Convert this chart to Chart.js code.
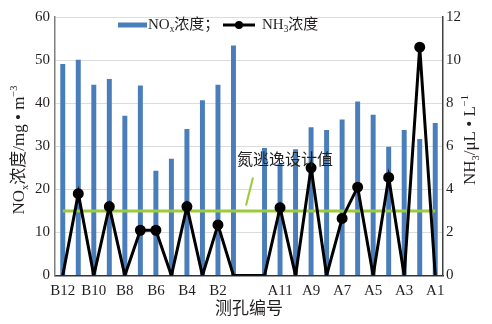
<!DOCTYPE html>
<html>
<head>
<meta charset="utf-8">
<script src="https://cdn.jsdelivr.net/npm/chart.js@4.4.0/dist/chart.umd.min.js"></script>
<style>
    html, body { margin: 0; padding: 0; background: #fff; }
    #wrap { width: 492px; height: 324px; }
</style>
</head>
<body>
<div id="wrap"><canvas id="grafico" width="492" height="324"></canvas></div>
<script>
// Dados
const categorias = ['B12', 'B11', 'B10', 'B9', 'B8', 'B7', 'B6', 'B5', 'B4', 'B3', 'B2', 'B1', '',
    'A12', 'A11', 'A10', 'A9', 'A8', 'A7', 'A6', 'A5', 'A4', 'A3', 'A2', 'A1'];
const rotulosX = ['B12', '', 'B10', '', 'B8', '', 'B6', '', 'B4', '', 'B2', '', '',
    '', 'A11', '', 'A9', '', 'A7', '', 'A5', '', 'A3', '', 'A1'];
const noxValores = [49.1, 50.1, 44.3, 45.6, 37.1, 44.1, 24.3, 27.1, 34.0, 40.7, 44.3, 53.4, null,
    29.6, 26.0, 29.3, 34.4, 33.8, 36.2, 40.4, 37.3, 29.9, 33.8, 31.7, 35.4];
const nh3Valores = [0, 3.8, 0, 3.2, 0, 2.1, 2.1, 0, 3.2, 0, 2.35, 0, 0,
    0, 3.15, 0, 5.0, 0, 2.65, 4.1, 0, 4.55, 0, 10.6, 0];
const valorProjeto = categorias.map(() => 3);   // 氨逃逸设计值
const ticksNox = [0, 10, 20, 30, 40, 50, 60];
const ticksNh3 = [0, 2, 4, 6, 8, 10, 12];

const SERIF = "'Liberation Serif', 'Noto Sans CJK SC', serif";
const COR_TEXTO = '#231f20';
const AZUL = '#4a7ebb';
const VERDE = '#9bcb3c';

// Texto com subscrito / sobrescrito
function desenharTexto(ctx, partes, x, y, rot, tam, alinhar) {
    ctx.save();
    ctx.translate(x, y);
    ctx.rotate(rot);
    let total = 0;
    partes.forEach(p => {
        ctx.font = (p.s ? tam * 0.62 : tam) + 'px ' + SERIF;
        p.w = ctx.measureText(p.t).width;
        total += p.w;
    });
    let cx = alinhar === 'left' ? 0 : -total / 2;
    ctx.textAlign = 'left';
    ctx.textBaseline = 'middle';
    ctx.fillStyle = COR_TEXTO;
    partes.forEach(p => {
        ctx.font = (p.s ? tam * 0.62 : tam) + 'px ' + SERIF;
        let dy = 0;
        if (p.s === 'sub') dy = tam * 0.32;
        if (p.s === 'sup') dy = -tam * 0.36;
        ctx.fillText(p.t, cx, dy);
        cx += p.w;
    });
    ctx.restore();
    return total;
}

// Legenda, títulos e anotação
const textosPlugin = {
    id: 'textos',
    afterDraw(chart) {
        const ctx = chart.ctx;
        const area = chart.chartArea;
        const xs = chart.scales.x;
        const y1 = chart.scales.y1;
        const ys = chart.scales.y;

        // legenda
        const ly = area.top + 8;
        ctx.fillStyle = AZUL;
        ctx.fillRect(area.left + 63, ly - 2.5, 29, 5);
        desenharTexto(ctx, [{ t: 'NO' }, { t: 'x', s: 'sub' }, { t: '浓度；' }], area.left + 93, ly, 0, 15, 'left');
        ctx.save();
        ctx.strokeStyle = '#000';
        ctx.lineWidth = 3;
        ctx.beginPath();
        ctx.moveTo(area.left + 168, ly);
        ctx.lineTo(area.left + 200, ly);
        ctx.stroke();
        ctx.beginPath();
        ctx.arc(area.left + 184, ly, 4, 0, Math.PI * 2);
        ctx.fillStyle = '#000';
        ctx.fill();
        ctx.restore();
        desenharTexto(ctx, [{ t: 'NH' }, { t: '3', s: 'sub' }, { t: '浓度' }], area.left + 207, ly, 0, 15, 'left');

        // títulos dos eixos
        desenharTexto(ctx, [{ t: 'NO' }, { t: 'x', s: 'sub' }, { t: '浓度/mg • m' }, { t: '−3', s: 'sup' }],
            20, 150, -Math.PI / 2, 17);
        desenharTexto(ctx, [{ t: 'NH' }, { t: '3', s: 'sub' }, { t: '/μL • L' }, { t: '−1', s: 'sup' }],
            471, 140, -Math.PI / 2, 17);
        desenharTexto(ctx, [{ t: '测孔编号' }], (area.left + area.right) / 2, 310, 0, 17);

        // anotação do valor de projeto
        const xg = xs.getPixelForValue(12);
        desenharTexto(ctx, [{ t: '氮逃逸设计值' }], xg - 12, ys.getPixelForValue(26.6), 0, 16, 'left');
        ctx.save();
        ctx.strokeStyle = VERDE;
        ctx.lineWidth = 2;
        ctx.beginPath();
        ctx.moveTo(xg - 3, y1.getPixelForValue(3.25));
        ctx.lineTo(xg + 4, y1.getPixelForValue(4.55));
        ctx.stroke();
        ctx.restore();
    }
};

function inicializarGrafico() {
    const ctx = document.getElementById('grafico').getContext('2d');
    new Chart(ctx, {
        type: 'bar',
        data: {
            labels: categorias,
            datasets: [{
                type: 'line',
                label: 'NH3浓度',
                data: nh3Valores,
                yAxisID: 'y1',
                borderColor: '#000',
                backgroundColor: '#000',
                borderWidth: 3,
                tension: 0,
                pointRadius: c => (c.raw > 0 ? 4 : 0),
                pointBackgroundColor: '#000',
                order: 0
            }, {
                type: 'line',
                label: '氮逃逸设计值',
                data: valorProjeto,
                yAxisID: 'y1',
                borderColor: VERDE,
                borderWidth: 3,
                pointRadius: 0,
                tension: 0,
                order: 1
            }, {
                label: 'NOx浓度',
                data: noxValores,
                yAxisID: 'y',
                backgroundColor: AZUL,
                barPercentage: 0.32,
                categoryPercentage: 1,
                order: 2
            }]
        },
        options: {
            responsive: false,
            devicePixelRatio: 1,
            animation: false,
            layout: { padding: { top: 17, left: 0, right: 0, bottom: 0 } },
            plugins: {
                legend: { display: false },
                tooltip: { enabled: false }
            },
            scales: {
                x: {
                    offset: true,
                    grid: { display: false, drawTicks: false },
                    border: { display: true, color: '#333', width: 1.5 },
                    ticks: {
                        autoSkip: false,
                        maxRotation: 0,
                        padding: 7,
                        color: COR_TEXTO,
                        font: { family: SERIF, size: 15 },
                        callback: (v, i) => rotulosX[i]
                    },
                    afterFit: s => { s.height = 48.5; }
                },
                y: {
                    position: 'left',
                    min: 0,
                    max: 60,
                    afterBuildTicks: s => { s.ticks = ticksNox.map(v => ({ value: v })); },
                    grid: { color: '#dcdcdc', drawTicks: false },
                    border: { color: '#7f7f7f', width: 1.5 },
                    ticks: { padding: 5, color: COR_TEXTO, font: { family: SERIF, size: 15 } },
                    afterFit: s => { s.width = 55; }
                },
                y1: {
                    position: 'right',
                    min: 0,
                    max: 12,
                    afterBuildTicks: s => { s.ticks = ticksNh3.map(v => ({ value: v })); },
                    grid: { display: false, drawTicks: false },
                    border: { color: '#404040', width: 1.5 },
                    ticks: { padding: 3, color: COR_TEXTO, font: { family: SERIF, size: 15 } },
                    afterFit: s => { s.width = 49; }
                }
            }
        },
        plugins: [textosPlugin]
    });
}

document.addEventListener('DOMContentLoaded', () => {
    inicializarGrafico();
});
</script>
</body>
</html>
